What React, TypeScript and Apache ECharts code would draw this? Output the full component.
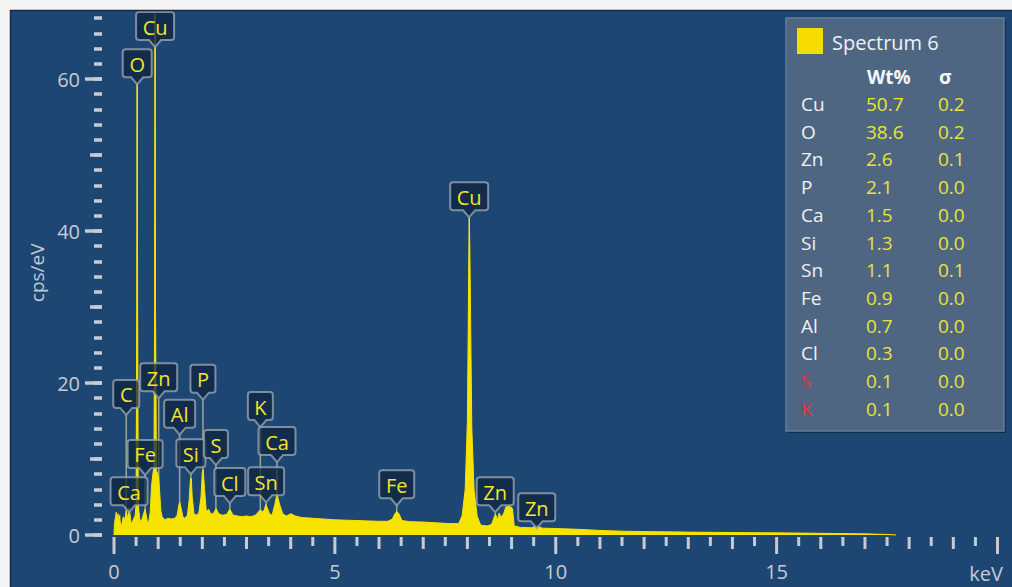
import React, { useEffect, useRef } from "react";
import * as echarts from "echarts";

// ---------- spectrum (keV, cps/eV) ----------
const SPECTRUM_KEV = [
  0.0, 0.01, 0.03, 0.05, 0.07, 0.09, 0.11, 0.13, 0.15, 0.18, 0.21, 0.24, 0.26, 0.28, 0.3, 0.32, 0.34, 0.36, 0.39, 0.42,
  0.45, 0.48, 0.5, 0.515, 0.525, 0.535, 0.55, 0.58, 0.61, 0.64, 0.68, 0.705, 0.73, 0.76, 0.79, 0.82, 0.85, 0.88, 0.905, 0.92,
  0.93, 0.94, 0.96, 0.99, 1.01, 1.03, 1.06, 1.09, 1.15, 1.22, 1.3, 1.38, 1.43, 1.47, 1.49, 1.52, 1.56, 1.6, 1.66, 1.7,
  1.73, 1.75, 1.77, 1.81, 1.86, 1.92, 1.97, 2.0, 2.02, 2.05, 2.09, 2.14, 2.19, 2.25, 2.31, 2.37, 2.45, 2.55, 2.62, 2.7,
  2.8, 2.9, 3.0, 3.1, 3.2, 3.31, 3.38, 3.44, 3.52, 3.58, 3.64, 3.69, 3.75, 3.82, 3.9, 4.01, 4.1, 4.25, 4.5, 4.75,
  5.0, 5.25, 5.5, 5.75, 6.0, 6.2, 6.3, 6.36, 6.4, 6.45, 6.52, 6.7, 7.0, 7.3, 7.6, 7.8, 7.88, 7.95, 8.0, 8.03,
  8.045, 8.06, 8.1, 8.15, 8.22, 8.3, 8.45, 8.55, 8.61, 8.64, 8.68, 8.72, 8.76, 8.82, 8.87, 8.95, 9.02, 9.06, 9.2, 9.45,
  9.57, 9.7, 10.0, 10.5, 11.0, 11.5, 12.0, 13.0, 14.0, 15.0, 16.0, 17.0, 17.6, 17.7,
];
const SPECTRUM_CPS = [
  0.0, 1.5, 2.2, 3.0, 2.0, 2.8, 1.8, 2.6, 1.0, 1.5, 2.4, 2.0, 2.6, 3.2, 2.2, 2.6, 3.6, 2.8, 1.4, 1.8,
  2.2, 2.6, 4.0, 30, 59.3, 30, 4.0, 2.2, 1.6, 2.2, 3.0, 3.4, 2.6, 1.6, 1.8, 3.0, 6.5, 8.0, 9.0, 30,
  68.5, 30, 8.5, 8.0, 7.5, 6.0, 3.2, 2.4, 2.0, 2.2, 2.1, 2.2, 2.6, 4.0, 4.3, 3.5, 2.4, 2.2, 2.6, 4.5,
  7.3, 7.5, 5.0, 2.8, 2.6, 2.9, 5.0, 8.3, 8.6, 6.0, 3.0, 3.4, 2.8, 2.8, 3.5, 2.8, 2.6, 2.7, 3.4, 2.6,
  2.5, 2.4, 2.5, 2.4, 2.6, 3.3, 3.0, 4.0, 2.8, 2.6, 4.0, 5.4, 4.0, 2.8, 2.5, 2.8, 2.5, 2.3, 2.2, 2.1,
  2.0, 1.95, 1.9, 1.85, 1.8, 1.8, 2.1, 2.8, 3.1, 2.8, 1.9, 1.75, 1.7, 1.6, 1.5, 1.5, 2.5, 6.0, 15, 35,
  41.8, 35, 14, 6.0, 2.5, 1.3, 1.2, 1.4, 2.4, 2.7, 2.0, 2.9, 2.3, 2.8, 3.7, 3.8, 3.5, 1.2, 1.0, 0.95,
  1.2, 0.9, 0.85, 0.75, 0.6, 0.5, 0.45, 0.38, 0.32, 0.28, 0.22, 0.15, 0.05, 0.0,
];

// ---------- peak labels ----------
const PEAK_LABELS = ["Ca", "C", "Fe", "O", "Cu", "Zn", "Al", "Si", "P", "S", "Cl", "K", "Sn", "Ca", "Fe", "Cu", "Zn", "Zn"];
const PEAK_KEV = [0.341, 0.277, 0.705, 0.525, 0.93, 1.012, 1.486, 1.74, 2.013, 2.307, 2.622, 3.313, 3.444, 3.69, 6.4, 8.04, 8.63, 9.57];
const PEAK_TIP_CPS = [3.0, 15.8, 7.9, 59.3, 64.2, 18.0, 13.2, 8.0, 17.8, 9.2, 4.2, 14.2, 4.3, 9.6, 3.9, 41.8, 3.0, 0.9];

// ---------- quantification table ----------
const TABLE_TITLE = "Spectrum 6";
const TABLE_ELEMENTS = ["Cu", "O", "Zn", "P", "Ca", "Si", "Sn", "Fe", "Al", "Cl", "S", "K"];
const TABLE_WT = ["50.7", "38.6", "2.6", "2.1", "1.5", "1.3", "1.1", "0.9", "0.7", "0.3", "0.1", "0.1"];
const TABLE_SIGMA = ["0.2", "0.2", "0.1", "0.0", "0.0", "0.0", "0.1", "0.0", "0.0", "0.0", "0.0", "0.0"];
const TABLE_FLAGGED = ["S", "K"];

// ---------- axes ----------
const X_MIN = 0;
const X_MAX = 20;
const X_LABEL_INTERVAL = 5;
const X_TICKS = [
  0, 0.5, 1, 1.5, 2, 2.5, 3, 3.5, 4, 4.5, 5, 5.5, 6, 6.5, 7, 7.5, 8, 8.5, 9, 9.5, 10,
  10.5, 11, 11.5, 12, 12.5, 13, 13.5, 14, 14.5, 15, 15.5, 16, 16.5, 17, 17.5, 18, 18.5, 19, 19.5, 20,
];
const Y_MIN = 0;
const Y_MAX = 69;
const Y_MAJOR_TICKS = [0, 20, 40, 60];
const Y_MID_TICKS = [10, 30, 50];
const Y_MINOR_TICKS = [0, 2, 4, 6, 8, 10, 12, 14, 16, 18, 20, 22, 24, 26, 28, 30, 32, 34, 36, 38, 40, 42, 44, 46, 48, 50, 52, 54, 56, 58, 60, 62, 64, 66, 68];

const FONT = '"Open Sans", "Noto Sans", sans-serif';
const BG = "#1e4672";
const YELLOW = "#f7e300";
const AXIS_GREY = "#c6cbd3";

let measureCtx: CanvasRenderingContext2D | null = null;
function textWidth(t: string, size: number): number {
  if (!measureCtx) {
    const c = document.createElement("canvas");
    measureCtx = c.getContext("2d");
  }
  if (!measureCtx) return t.length * size * 0.6;
  measureCtx.font = `${size}px ${FONT}`;
  return measureCtx.measureText(t).width;
}

function xTickLength(v: number): number {
  return v % 5 === 0 ? 17 : v % 1 === 0 ? 12 : 9;
}

export default function App() {
  const ref = useRef<HTMLDivElement>(null);

  useEffect(() => {
    document.body.style.margin = "0";
    document.body.style.background = "#ffffff";
    if (!ref.current) return;
    const chart = echarts.init(ref.current, undefined, { renderer: "svg" });

    const tickLine = (w: number) => ({ color: AXIS_GREY, width: w });

    const yAxisBase = {
      type: "value" as const,
      min: Y_MIN,
      max: Y_MAX,
      position: "left" as const,
      offset: 12,
      axisLine: { show: false, onZero: false },
      splitLine: { show: false },
    };

    const legendX = 786;
    const legendY = 18;
    const rowY0 = 104;
    const rowStep = 27.7;

    const legendChildren: any[] = [
      { type: "rect", shape: { x: legendX + 2, y: legendY + 2, width: 218, height: 413 }, style: { fill: "rgba(10,25,45,0.6)" } },
      { type: "rect", shape: { x: legendX, y: legendY, width: 218, height: 413 }, style: { fill: "#4f6682", stroke: "#667c97", lineWidth: 1.5 } },
      { type: "rect", shape: { x: 797, y: 28, width: 26, height: 26 }, style: { fill: "#f6dc00" } },
      { type: "text", style: { text: TABLE_TITLE, x: 832, y: 42, fill: "#eef1f5", fontSize: 20, fontFamily: FONT, align: "left", verticalAlign: "middle", textAlign: "left", textVerticalAlign: "middle" } },
      { type: "text", style: { text: "Wt%", x: 867, y: 77, fill: "#f4f6f8", fontSize: 19, fontWeight: "bold", fontFamily: FONT, align: "left", verticalAlign: "middle", textAlign: "left", textVerticalAlign: "middle" } },
      { type: "text", style: { text: "σ", x: 939, y: 77, fill: "#f4f6f8", fontSize: 19, fontWeight: "bold", fontFamily: FONT, align: "left", verticalAlign: "middle", textAlign: "left", textVerticalAlign: "middle" } },
    ];
    TABLE_ELEMENTS.forEach((el, i) => {
      const y = rowY0 + i * rowStep;
      const flagged = TABLE_FLAGGED.indexOf(el) >= 0;
      const common = { fontSize: 19, fontFamily: FONT, align: "left", verticalAlign: "middle", textAlign: "left", textVerticalAlign: "middle" };
      legendChildren.push({ type: "text", style: { ...common, text: el, x: 801, y, fill: flagged ? "#e8303c" : "#eef1f5" } });
      legendChildren.push({ type: "text", style: { ...common, text: TABLE_WT[i], x: 866, y, fill: "#ebe33a" } });
      legendChildren.push({ type: "text", style: { ...common, text: TABLE_SIGMA[i], x: 938, y, fill: "#ebe33a" } });
    });

    const option: any = {
      animation: false,
      backgroundColor: BG,
      grid: { left: 114, right: 14.5, top: 10.6, bottom: 52, containLabel: false, outerBoundsMode: "none" },
      xAxis: [
        {
          type: "value",
          min: X_MIN,
          max: X_MAX,
          interval: X_LABEL_INTERVAL,
          position: "bottom",
          offset: 2,
          axisLine: { show: false, onZero: false },
          splitLine: { show: false },
          axisTick: { show: false },
          axisLabel: {
            show: true,
            margin: 24,
            color: AXIS_GREY,
            fontSize: 20,
            fontFamily: FONT,
            formatter: (v: number) => (v === X_MAX ? "" : String(v)),
          },
        },
      ],
      yAxis: [
        {
          ...yAxisBase,
          name: "cps/eV",
          nameLocation: "middle",
          nameGap: 55,
          nameTextStyle: { color: AXIS_GREY, fontSize: 19, fontFamily: FONT },
          axisTick: { show: true, inside: false, length: 17, customValues: Y_MAJOR_TICKS, lineStyle: tickLine(3.5) },
          axisLabel: { show: true, margin: 22, customValues: Y_MAJOR_TICKS, color: AXIS_GREY, fontSize: 20, fontFamily: FONT },
        },
        { ...yAxisBase, axisTick: { show: true, inside: false, length: 12, customValues: Y_MID_TICKS, lineStyle: tickLine(3.5) }, axisLabel: { show: false } },
        { ...yAxisBase, axisTick: { show: true, inside: false, length: 8, customValues: Y_MINOR_TICKS, lineStyle: tickLine(3.5) }, axisLabel: { show: false } },
      ],
      series: [
        {
          name: "pointers",
          type: "custom",
          xAxisIndex: 0,
          yAxisIndex: 0,
          z: 1,
          silent: true,
          clip: false,
          data: PEAK_KEV.map((k, i) => [k, PEAK_TIP_CPS[i]]),
          encode: { x: 0, y: 1 },
          renderItem: (_params: any, api: any) => {
            const top = api.coord([api.value(0), api.value(1)]);
            const bottom = api.coord([api.value(0), 0]);
            return {
              type: "line",
              shape: { x1: top[0], y1: top[1], x2: bottom[0], y2: bottom[1] },
              style: { stroke: "rgba(200,198,160,0.75)", lineWidth: 1.5 },
            };
          },
        },
        {
          name: "Spectrum 6",
          type: "line",
          xAxisIndex: 0,
          yAxisIndex: 0,
          z: 2,
          clip: false,
          symbol: "none",
          showSymbol: false,
          data: SPECTRUM_KEV.map((k, i) => [k, SPECTRUM_CPS[i]]),
          lineStyle: { color: YELLOW, width: 1 },
          areaStyle: { color: YELLOW, opacity: 1, origin: "start" },
        },
        {
          name: "x ticks",
          type: "custom",
          xAxisIndex: 0,
          yAxisIndex: 0,
          z: 10,
          silent: true,
          clip: false,
          data: X_TICKS.map((v) => [v, 0]),
          encode: { x: 0, y: 1 },
          renderItem: (_params: any, api: any) => {
            const v = api.value(0);
            const p = api.coord([v, 0]);
            const y1 = p[1] + 2;
            return {
              type: "line",
              shape: { x1: p[0], y1, x2: p[0], y2: y1 + xTickLength(v) },
              style: { stroke: AXIS_GREY, lineWidth: 3 },
            };
          },
        },
        {
          name: "labels",
          type: "custom",
          xAxisIndex: 0,
          yAxisIndex: 0,
          z: 3,
          silent: true,
          clip: false,
          data: PEAK_KEV.map((k, i) => [k, PEAK_TIP_CPS[i]]),
          encode: { x: 0, y: 1 },
          renderItem: (params: any, api: any) => {
            const i = params.dataIndex;
            const name = PEAK_LABELS[i];
            const p = api.coord([api.value(0), api.value(1)]);
            const cx = p[0];
            const tip = p[1];
            const w = Math.max(22, Math.round(textWidth(name, 20) + 13));
            const bodyH = 28;
            const tailH = 7;
            const tailW = 6;
            const r = 3;
            const yb = tip - tailH;
            const y0 = yb - bodyH;
            const x0 = cx - w / 2;
            const x1 = cx + w / 2;
            const d =
              `M${x0 + r},${y0} L${x1 - r},${y0} Q${x1},${y0} ${x1},${y0 + r} L${x1},${yb - r} Q${x1},${yb} ${x1 - r},${yb} ` +
              `L${cx + tailW},${yb} L${cx},${tip} L${cx - tailW},${yb} L${x0 + r},${yb} Q${x0},${yb} ${x0},${yb - r} ` +
              `L${x0},${y0 + r} Q${x0},${y0} ${x0 + r},${y0} Z`;
            return {
              type: "group",
              children: [
                {
                  type: "path",
                  shape: { pathData: d },
                  style: { fill: "rgba(14,36,62,0.74)", stroke: "rgba(150,162,180,0.8)", lineWidth: 2 },
                },
                {
                  type: "text",
                  style: {
                    text: name,
                    x: cx,
                    y: (y0 + yb) / 2 + 1,
                    fill: "#f4e52a",
                    fontSize: 20,
                    fontFamily: FONT,
                    align: "center",
                    verticalAlign: "middle",
                    textAlign: "center",
                    textVerticalAlign: "middle",
                  },
                },
              ],
            };
          },
        },
      ],
      graphic: [
        { type: "rect", z: 100, shape: { x: 0, y: 0, width: 1012, height: 10 }, style: { fill: "#f4f5f4" } },
        { type: "rect", z: 100, shape: { x: 0, y: 0, width: 10, height: 587 }, style: { fill: "#f4f5f4" } },
        { type: "line", z: 100, shape: { x1: 10, y1: 10.5, x2: 1012, y2: 10.5 }, style: { stroke: "#13283f", lineWidth: 1.5 } },
        { type: "line", z: 100, shape: { x1: 10.5, y1: 10, x2: 10.5, y2: 587 }, style: { stroke: "#13283f", lineWidth: 1.5 } },
        { type: "group", z: 100, children: legendChildren },
        {
          type: "text",
          z: 100,
          style: { text: "keV", x: 1003, y: 573, fill: AXIS_GREY, fontSize: 20, fontFamily: FONT, align: "right", verticalAlign: "middle", textAlign: "right", textVerticalAlign: "middle" },
        },
      ],
    };

    chart.setOption(option);
    return () => chart.dispose();
  }, []);

  return <div ref={ref} style={{ width: 1012, height: 587 }} />;
}
